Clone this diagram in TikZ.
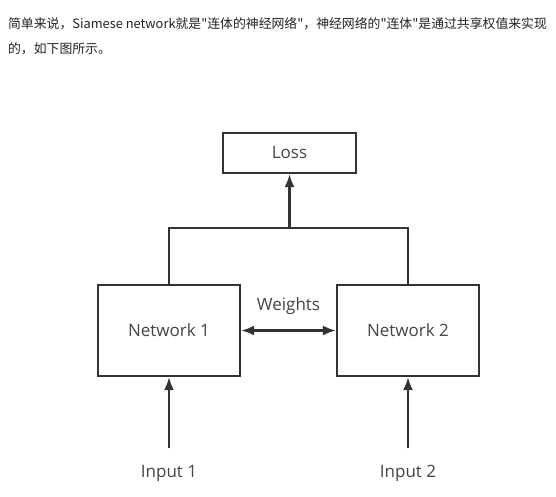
\documentclass[tikz,border=0pt]{standalone}
\usepackage{fontspec}
\setmainfont{Open Sans}
\newfontfamily\cjk{Noto Sans CJK SC}
\usetikzlibrary{arrows.meta,positioning}
\definecolor{linegray}{HTML}{333333}
\definecolor{textgray}{HTML}{444444}
\definecolor{bodytext}{HTML}{222222}

\begin{document}
\begin{tikzpicture}[x=1pt,y=-1pt,>={Latex[length=13pt,width=10pt]},
                    line width=2.2pt,draw=linegray,node distance=239pt]
  \tikzstyle{netbox}=[draw=linegray,minimum width=142pt,minimum height=91pt,
                      text=textgray,font=\fontsize{17}{19}\selectfont]
  \tikzstyle{lossbox}=[netbox,minimum width=133pt,minimum height=40pt]
  \tikzstyle{label}=[text=textgray,font=\fontsize{17}{19}\selectfont]
  \tikzstyle{para}=[anchor=west,inner sep=0pt,text=bodytext,
                    font=\cjk\fontsize{12.85}{15}\selectfont]

  \useasboundingbox (0,0) rectangle (556,496);

  % text above the figure
  \node[para] (line1) at (7,24) {简单来说，Siamese network就是"连体的神经网络"，神经网络的"连体"是通过共享权值来实现};
  \node[para] (line2) at (7,49) {的，如下图所示。};

  \node[lossbox] (loss) at (289.5,153) {Loss};
  \node[netbox]  (net1) at (169,330.5) {Network 1};
  \node[netbox]  (net2) [right of=net1] {Network 2};
  \node[label]   (in1)  at (169,473) {Input 1};
  \node[label]   (in2)  [right of=in1] {Input 2};

  \coordinate (merge) at (289.5,228);

  \draw[linegray] (net1.north) |- (merge) -| (net2.north);
  \draw[->,linegray] (merge) -- (loss.south);
  \draw[<->,linegray] (net1.east) -- node[label,above=11pt] (weights) {Weights} (net2.west);
  \draw[->,linegray] ([yshift=12pt]in1.north) -- (net1.south);
  \draw[->,linegray] ([yshift=12pt]in2.north) -- (net2.south);
\end{tikzpicture}
\end{document}
